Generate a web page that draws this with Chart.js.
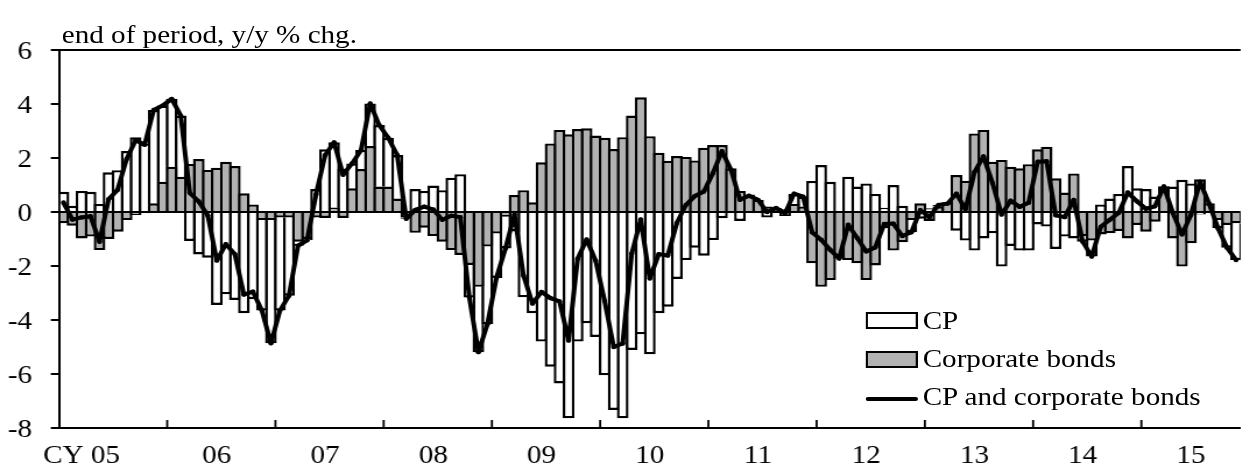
<!DOCTYPE html>
<html>
<head>
<meta charset="utf-8">
<script src="https://cdn.jsdelivr.net/npm/chart.js@4.4.1/dist/chart.umd.min.js"></script>
<style>
  html, body { margin: 0; padding: 0; background: #fff; overflow: hidden; }
  body { width: 1250px; height: 470px; position: relative; }
  /* the reference is stretched sideways, so draw narrow and widen */
  #wrap { position: absolute; left: 0; top: 0; width: 1074px; height: 470px; transform: scaleX(1.165); transform-origin: 0 0; }
  #chart { position: absolute; left: 0; top: 0; }
  .txt { position: absolute; font-family: "Liberation Serif", serif; font-size: 25px; line-height: 25px; color: #000; white-space: nowrap; }
  .box { position: absolute; box-sizing: border-box; border: 2px solid #000; }
  .lineKey { position: absolute; height: 4px; background: #000; border-radius: 2px; }
</style>
</head>
<body>
<div id="wrap">
  <canvas id="chart" width="1074" height="470"></canvas>
  <div class="txt" style="left:53px; top:22px;">end of period, y/y % chg.</div>
  <div class="box" style="left:743px; top:312px; width:45px; height:17px; background:#fff;"></div>
  <div class="txt" style="left:792px; top:308px;">CP</div>
  <div class="box" style="left:743px; top:351px; width:45px; height:17px; background:#b2b2b2;"></div>
  <div class="txt" style="left:792px; top:346px;">Corporate bonds</div>
  <div class="lineKey" style="left:743px; top:397px; width:45px;"></div>
  <div class="txt" style="left:792px; top:384px;">CP and corporate bonds</div>
</div>
<script>
// monthly, Jan 2005 - Nov 2015
const yearLabels = ['CY 05', '06', '07', '08', '09', '10', '11', '12', '13', '14', '15'];
const categories = [];
for (let y = 2005; y <= 2015; y++) {
    for (let m = 1; m <= 12; m++) {
        if (categories.length < 131) categories.push(y + '-' + m);
    }
}

const cp = [
    0.75, 0.23, 0.78, 0.75, 0.3, 1.47, 1.55, 2.26, 2.77, 2.54, 3.46, 2.82,
    2.51, 2.26, -1.07, -1.57, -1.69, -3.44, -3.05, -3.26, -3.75, -3.23, -3.35, -4.56,
    -3.45, -2.9, -0.15, -0.05, 0.85, 2.32, 2.41, 1.6, 0.92, 0.71, 1.58, 2.28,
    1.81, 1.61, -0.05, 0.85, 0.78, 0.98, 0.81, 1.27, 1.4, -1.21, -2.42, -2.88,
    -1.64, -1.17, -0.72, -3.16, -3.75, -4.8, -5.73, -6.35, -7.64, -4.8, -4.12, -4.63,
    -6.05, -7.33, -7.64, -5.11, -4.53, -5.27, -3.75, -3.51, -2.48, -1.78, -1.32, -1.62,
    -1.04, -0.23, -0.05, -0.33, -0.05, 0.0, -0.2, 0.05, 0.1, 0.38, 0.37, 1.15,
    1.74, 1.12, 0.0, 1.31, 0.94, 1.06, 0.67, 0.16, 1.0, 0.23, -0.45, -0.25,
    0.14, 0.06, -0.05, -0.69, -1.06, -1.43, -0.98, -0.79, -2.02, -1.26, -1.43, -1.43,
    -0.46, -0.54, -1.37, -0.91, -0.98, -0.2, -0.59, 0.28, 0.5, 0.67, 1.7, 0.88,
    0.85, 0.57, 0.0, 0.94, 1.19, 1.06, -0.09, 0.0, -0.3, -0.84, -1.36
];

const bonds = [
    -0.42, -0.51, -0.98, -0.91, -1.41, -1.0, -0.73, -0.3, -0.11, -0.05, 0.32, 1.12,
    1.68, 1.31, 1.78, 1.96, 1.56, 1.64, 1.86, 1.7, 0.69, 0.28, -0.3, -0.3,
    -0.2, -0.2, -1.1, -1.0, -0.2, -0.22, 0.17, -0.22, 0.88, 1.59, 2.44, 0.94,
    0.94, 0.5, -0.2, -0.77, -0.58, -0.89, -1.1, -1.41, -1.59, -1.96, -2.77, -1.28,
    -0.8, -0.18, 0.63, 0.81, 0.36, 1.84, 2.54, 3.04, 2.88, 3.07, 3.1, 2.83,
    2.75, 2.33, 2.77, 3.57, 4.25, 2.81, 2.19, 1.9, 2.07, 2.04, 1.91, 2.38,
    2.48, 2.48, 1.62, 0.78, 0.65, 0.45, 0.2, 0.1, -0.15, 0.3, 0.2, -1.9,
    -2.77, -2.52, -1.72, -1.78, -1.9, -2.52, -1.98, -0.6, -1.43, -1.12, -0.3, 0.32,
    -0.33, 0.2, 0.36, 1.37, 1.16, 2.91, 3.04, 1.86, 1.93, 1.68, 1.62, 1.77,
    2.32, 2.42, 1.25, 0.72, 1.43, -0.9, -1.06, -0.83, -0.79, -0.7, -0.98, -0.48,
    -0.73, -0.36, 0.95, -0.98, -2.02, -1.16, 1.21, 0.32, -0.3, -0.48, -0.42
];

const total = [
    0.35, -0.28, -0.2, -0.16, -1.1, 0.47, 0.82, 1.96, 2.66, 2.49, 3.78, 3.94,
    4.19, 3.57, 0.71, 0.39, -0.13, -1.8, -1.19, -1.56, -3.06, -2.95, -3.65, -4.86,
    -3.65, -3.1, -1.25, -1.05, 0.65, 2.1, 2.58, 1.38, 1.8, 2.3, 4.02, 3.22,
    2.75, 2.11, -0.25, 0.08, 0.2, 0.09, -0.29, -0.14, -0.19, -3.17, -5.19, -4.16,
    -2.44, -1.35, -0.09, -2.35, -3.39, -2.96, -3.19, -3.31, -4.76, -1.73, -1.02, -1.8,
    -3.3, -5.0, -4.87, -1.54, -0.28, -2.46, -1.56, -1.61, -0.41, 0.26, 0.59, 0.76,
    1.44, 2.25, 1.57, 0.45, 0.6, 0.45, 0.0, 0.15, -0.05, 0.68, 0.57, -0.75,
    -1.03, -1.4, -1.72, -0.47, -0.96, -1.46, -1.31, -0.44, -0.43, -0.89, -0.75, 0.07,
    -0.19, 0.26, 0.31, 0.68, 0.1, 1.48, 2.06, 1.07, -0.09, 0.42, 0.19, 0.34,
    1.86, 1.88, -0.12, -0.19, 0.45, -1.1, -1.65, -0.55, -0.29, -0.03, 0.72, 0.4,
    0.12, 0.21, 0.95, -0.04, -0.83, -0.1, 1.12, 0.32, -0.6, -1.32, -1.78
];

Chart.defaults.font.family = '"Liberation Serif", "Times New Roman", serif';
Chart.defaults.font.size = 25;
Chart.defaults.color = '#000';

// small year ticks pointing up from the bottom axis
const yearTicks = {
    id: 'yearTicks',
    afterDatasetsDraw(chart) {
        const { ctx, chartArea } = chart;
        const x = chart.scales.x;
        const half = (x.getPixelForValue(1) - x.getPixelForValue(0)) / 2;
        ctx.save();
        ctx.strokeStyle = '#000';
        ctx.lineWidth = 1.8;
        for (let i = 12; i < categories.length; i += 12) {
            const px = x.getPixelForValue(i) - half;
            ctx.beginPath();
            ctx.moveTo(px, chartArea.bottom);
            ctx.lineTo(px, chartArea.bottom - 8);
            ctx.stroke();
        }
        ctx.restore();
    }
};

const bw = 2.4; // bar outline
const ctx = document.getElementById('chart');
new Chart(ctx, {
    type: 'bar',
    data: {
        labels: categories,
        datasets: [
            {
                type: 'line',
                label: 'CP and corporate bonds',
                data: total,
                borderColor: '#000',
                borderWidth: 4,
                pointRadius: 2.2,
                pointBackgroundColor: '#000',
                pointBorderWidth: 0,
                borderJoinStyle: 'round',
                tension: 0,
                order: 0
            },
            {
                label: 'Corporate bonds',
                data: bonds,
                backgroundColor: '#b2b2b2',
                borderColor: '#000',
                borderWidth: bw,
                stack: 's',
                order: 1
            },
            {
                label: 'CP',
                data: cp,
                backgroundColor: '#fff',
                borderColor: '#000',
                borderWidth: bw,
                stack: 's',
                order: 1
            }
        ]
    },
    options: {
        responsive: false,
        animation: false,
        devicePixelRatio: 1,
        categoryPercentage: 1,
        barPercentage: 1.3,
        layout: { padding: { top: 50, left: 0, right: 0, bottom: 0 } },
        plugins: {
            legend: { display: false },
            tooltip: { enabled: false }
        },
        scales: {
            x: {
                stacked: true,
                offset: true,
                afterFit: (scale) => { scale.height = 42; },
                grid: { display: false, drawTicks: false },
                border: { display: true, color: '#000', width: 2 },
                ticks: {
                    autoSkip: false,
                    maxRotation: 0,
                    minRotation: 0,
                    padding: 13,
                    callback: (v, i) => {
                        const yr = Math.floor(i / 12), m = i % 12;
                        if (yr === 0) return m === 2 ? yearLabels[0] : '';
                        return m === 5 ? yearLabels[yr] : '';
                    }
                }
            },
            y: {
                stacked: true,
                min: -8,
                max: 6,
                z: 1,
                afterFit: (scale) => { scale.width = 50.6; },
                ticks: { stepSize: 2, padding: 16, labelOffset: 2 },
                grid: {
                    color: (c) => (c.tick && (c.tick.value === 0 || c.tick.value === 6)) ? '#000' : 'rgba(0,0,0,0)',
                    lineWidth: 2,
                    tickColor: '#000',
                    tickWidth: 2,
                    tickLength: 7
                },
                border: { display: true, color: '#000', width: 2 }
            }
        }
    },
    plugins: [yearTicks]
});
</script>
</body>
</html>
